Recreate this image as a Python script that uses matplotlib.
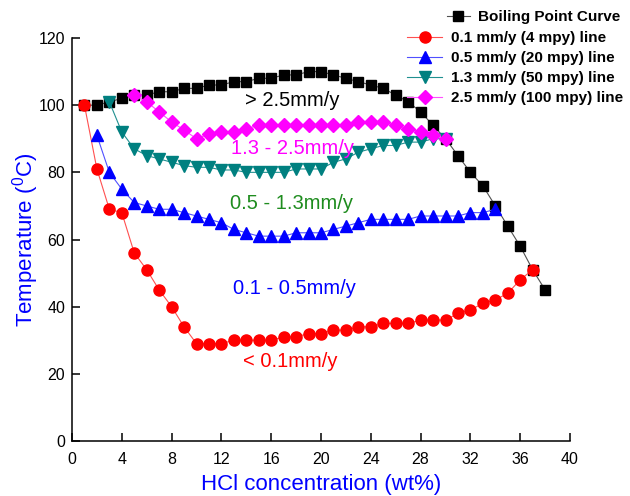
import numpy as np
import matplotlib.pyplot as plt

plt.rcParams['font.family'] = ['Liberation Sans', 'DejaVu Sans']
plt.rcParams['mathtext.fontset'] = 'custom'
plt.rcParams['mathtext.rm'] = 'Liberation Sans'

# boiling point curve
bp_x = np.arange(1, 39)
bp_y = [100, 100, 101, 102, 103, 103, 104, 104, 105, 105, 106, 106, 107, 107, 108, 108, 109, 109, 110, 110,
        109, 108, 107, 106, 105, 103, 101, 98, 94, 90, 85, 80, 76, 70, 64, 58, 51, 45]

# 0.1 mm/y line
r_x = np.arange(1, 38)
r_y = [100, 81, 69, 68, 56, 51, 45, 40, 34, 29, 29, 29, 30, 30, 30, 30, 31, 31, 32, 32,
       33, 33, 34, 34, 35, 35, 35, 36, 36, 36, 38, 39, 41, 42, 44, 48, 51]

# 0.5 mm/y line
b_x = np.arange(2, 35)
b_y = [91, 80, 75, 71, 70, 69, 69, 68, 67, 66, 65, 63, 62, 61, 61, 61, 62, 62, 62, 63,
       64, 65, 66, 66, 66, 66, 67, 67, 67, 67, 68, 68, 69]

# 1.3 mm/y line
t_x = np.arange(3, 31)
t_y = [101, 92, 87, 85, 84, 83, 82, 81.5, 81.5, 80.7, 80.7, 80, 80, 80, 80, 81, 81, 81,
       83, 84, 86, 87, 88, 88, 89, 89, 90, 90]

# 2.5 mm/y line
m_x = np.arange(5, 31)
m_y = [103, 101, 98, 95, 92.6, 90, 91.4, 92, 92, 93, 94, 94, 94, 94, 94, 94, 94, 94,
       95, 95, 95, 94, 93, 92, 91, 90]

zones = ['> 2.5mm/y', '1.3 - 2.5mm/y', '0.5 - 1.3mm/y', '0.1 - 0.5mm/y', '< 0.1mm/y']
zone_x = [17.7, 17.7, 17.6, 17.9, 17.5]
zone_y = [101.5, 87.2, 70.8, 45.5, 23.8]
zone_c = ['black', '#FF00FF', '#1E8C1E', '#0000FF', '#FF0000']

fig = plt.figure(figsize=(6.3, 4.96), dpi=100)
ax = fig.add_axes([72/630, 1-441/496, (570-72)/630, (441-38)/496])

h0, = ax.plot(bp_x, bp_y, color='#505050', lw=0.8, marker='s', ms=7, mfc='black', mec='black')
h1, = ax.plot(r_x, r_y, color='#FF5050', lw=0.8, marker='o', ms=8, mfc='red', mec='red')
h2, = ax.plot(b_x, b_y, color='#5050FF', lw=0.8, marker='^', ms=8, mfc='blue', mec='blue')
h3, = ax.plot(t_x, t_y, color='#209090', lw=0.8, marker='v', ms=8, mfc='#008080', mec='#008080')
h4, = ax.plot(m_x, m_y, color='#FF50FF', lw=0.8, marker='D', ms=7.5, mfc='#FF00FF', mec='#FF00FF')

for s, x, y, c in zip(zones, zone_x, zone_y, zone_c):
    ax.text(x, y, s, color=c, fontsize=14.5, ha='center', va='center')

ax.set_xlim(0, 40)
ax.set_ylim(0, 120)
ax.set_xticks(range(0, 41, 4))
ax.set_yticks(range(0, 121, 20))
ax.spines['top'].set_visible(False)
ax.spines['right'].set_visible(False)
for sp in ['left', 'bottom']:
    ax.spines[sp].set_linewidth(1.1)
ax.tick_params(direction='in', length=6, width=1.1, labelsize=11.5, pad=5)
ax.tick_params(axis='x', pad=8)

ax.set_xlabel('HCl concentration (wt%)', color='blue', fontsize=16, labelpad=5)
ax.set_ylabel(r'Temperature ($\mathregular{^0}$C)', color='blue', fontsize=16, labelpad=-1.6)

leg_font = dict(weight='bold', size=11)
fig.legend([h0], ['Boiling Point Curve'], loc='upper left', bbox_to_anchor=(447/630, 1-10/496),
           frameon=False, prop=leg_font, handlelength=1.5, handletextpad=0.5,
           borderpad=0, borderaxespad=0)
fig.legend([h1, h2, h3, h4],
           ['0.1 mm/y (4 mpy) line', '0.5 mm/y (20 mpy) line',
            '1.3 mm/y (50 mpy) line', '2.5 mm/y (100 mpy) line'],
           loc='upper left', bbox_to_anchor=(407/630, 1-31/496),
           frameon=False, prop=leg_font, handlelength=2.3, handletextpad=0.55,
           labelspacing=0.4, borderpad=0, borderaxespad=0)

fig.savefig('out.png', dpi=100)
